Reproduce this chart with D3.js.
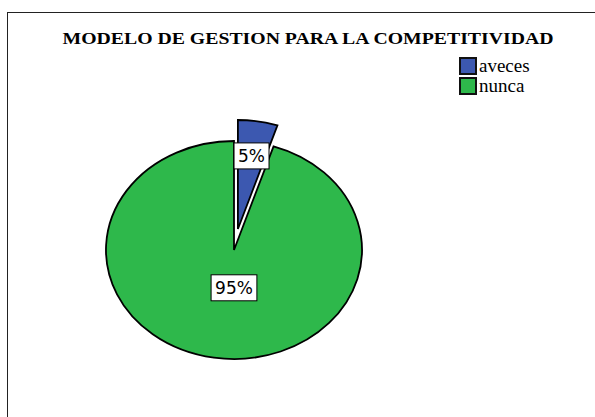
<!DOCTYPE html>
<html>
<head>
<meta charset="utf-8">
<script src="https://cdn.jsdelivr.net/npm/d3@7"></script>
<style>
  html, body { margin: 0; padding: 0; background: #fff; }
</style>
</head>
<body>
<svg id="chart" width="595" height="417"></svg>
<script>
const categories = ["aveces", "nunca"];
const values = [5, 95];
const labels = ["5%", "95%"];
const colors = ["#3c58b0", "#2eb84b"];
const title = "MODELO DE GESTION PARA LA COMPETITIVIDAD";

const width = 595, height = 417;
const cx = 234, cy = 250, rx = 128, ry = 109;
const explode = [0.195, 0];
const labelR = [0.68, 0.35];
const labelShift = [[0, 0], [7, 0]];

const svg = d3.select("#chart");

// frame, runs off the right and bottom edge like the original export
svg.append("rect")
  .attr("x", 7.5).attr("y", 12.5)
  .attr("width", 700).attr("height", 500)
  .attr("fill", "none")
  .attr("stroke", "#222")
  .attr("stroke-width", 1);

svg.append("text")
  .attr("x", 308).attr("y", 44)
  .attr("text-anchor", "middle")
  .attr("font-family", "Liberation Serif, Times New Roman, serif")
  .attr("font-weight", "bold")
  .attr("font-size", 17)
  .attr("textLength", 491)
  .attr("lengthAdjust", "spacingAndGlyphs")
  .text(title);

const pie = d3.pie().sort(null).value(d => d)(values);
const arc = d3.arc().innerRadius(0).outerRadius(1);

const offset = (d, i) => {
  const mid = (d.startAngle + d.endAngle) / 2;
  return [Math.sin(mid) * explode[i] * rx, -Math.cos(mid) * explode[i] * ry, mid];
};

svg.append("g")
  .selectAll("path")
  .data(pie)
  .join("path")
  .attr("transform", (d, i) => {
    const [ox, oy] = offset(d, i);
    return `translate(${cx + ox},${cy + oy}) scale(${rx},${ry})`;
  })
  .attr("d", arc)
  .attr("fill", (d, i) => colors[i])
  .attr("stroke", "#000")
  .attr("stroke-width", 1.8)
  .attr("vector-effect", "non-scaling-stroke");

// labels with white boxes
const labelG = svg.append("g")
  .selectAll("g")
  .data(pie)
  .join("g")
  .attr("transform", (d, i) => {
    const [ox, oy, mid] = offset(d, i);
    const lx = cx + ox + Math.sin(mid) * labelR[i] * rx + labelShift[i][0];
    const ly = cy + oy - Math.cos(mid) * labelR[i] * ry + labelShift[i][1];
    return `translate(${lx},${ly})`;
  });

labelG.append("text")
  .attr("text-anchor", "middle")
  .attr("dy", "0.36em")
  .attr("font-family", "DejaVu Sans, sans-serif")
  .attr("font-size", 17)
  .attr("fill", "#000")
  .text((d, i) => labels[i]);

labelG.each(function() {
  const g = d3.select(this);
  const bb = g.select("text").node().getBBox();
  g.insert("rect", "text")
    .attr("x", bb.x - 4).attr("y", bb.y - 3)
    .attr("width", bb.width + 8).attr("height", bb.height + 6)
    .attr("fill", "#fff")
    .attr("stroke", "#000")
    .attr("stroke-width", 1);
});

// legend
const legend = svg.append("g")
  .selectAll("g")
  .data(categories)
  .join("g")
  .attr("transform", (d, i) => `translate(460,${58 + i * 20})`);

legend.append("rect")
  .attr("width", 16).attr("height", 16)
  .attr("fill", (d, i) => colors[i])
  .attr("stroke", "#111")
  .attr("stroke-width", 2);

legend.append("text")
  .attr("x", 19).attr("y", 14)
  .attr("font-family", "Liberation Serif, Times New Roman, serif")
  .attr("font-size", 19)
  .text(d => d);
</script>
</body>
</html>
